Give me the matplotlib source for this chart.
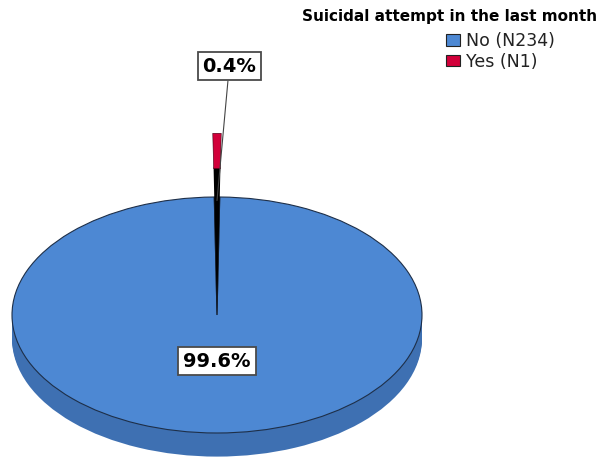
import matplotlib.pyplot as plt
import numpy as np
from matplotlib.patches import Patch

# data
labels = ["No (N234)", "Yes (N1)"]
counts = [234, 1]
title = "Suicidal attempt in the last month"

top_colors = ["#4d88d3", "#d2003a"]
side_color = "#3e70b2"


def main():
    total = sum(counts)
    pct = [100 * c / total for c in counts]
    # put the small slice straight up
    start = 90 - 360 * (counts[0] + counts[1] / 2) / total

    fig = plt.figure(figsize=(6.01, 4.59), dpi=100)
    ax = fig.add_axes([0, 0, 1, 1])

    # side of the disc: stacked copies shifted down
    depth = 0.2
    for d in np.linspace(depth, 0.01, 15):
        ax.pie(counts, startangle=start, center=(0, -d), colors=[side_color, side_color],
               wedgeprops=dict(linewidth=0))

    # top face, gap of the small slice shows dark
    top, _ = ax.pie(counts, startangle=start, colors=[top_colors[0], "black"],
                    wedgeprops=dict(linewidth=0.8, edgecolor="#1e2f48"))

    # black spike and exploded red tip of the small slice
    spike, _ = ax.pie(counts, startangle=start, radius=1.25, colors=["none", "black"],
                      wedgeprops=dict(linewidth=0))
    spike[0].set_visible(False)
    tip, _ = ax.pie(counts, startangle=start, radius=1.54, colors=["none", top_colors[1]],
                    wedgeprops=dict(width=0.3, linewidth=0.4, edgecolor="#3a0010"))
    tip[0].set_visible(False)

    box = dict(boxstyle="square,pad=0.25", facecolor="white", edgecolor="#4a4a4a", linewidth=1.3)

    # big slice label inside
    w = top[0]
    mid = np.deg2rad((w.theta1 + w.theta2) / 2)
    ax.text(0.39 * np.cos(mid), 0.39 * np.sin(mid), f"{pct[0]:.1f}%", ha="center", va="center",
            fontsize=14, fontweight="bold", bbox=box)

    # small slice label with a leader line
    w = top[1]
    mid = np.deg2rad((w.theta1 + w.theta2) / 2)
    ax.annotate(f"{pct[1]:.1f}%", xy=(0.97 * np.cos(mid), 0.97 * np.sin(mid)),
                xytext=(0.06, 2.11), ha="center", va="center",
                fontsize=14, fontweight="bold", bbox=box,
                arrowprops=dict(arrowstyle="-", color="#444444", linewidth=0.8,
                                shrinkA=0, shrinkB=0))

    ax.set_aspect("auto")
    ax.set_xlim(-217 / 205, (601 - 217) / 205)
    ax.set_ylim(-144 / 118, 315 / 118)
    ax.axis("off")

    fig.text(597 / 601, 1 - 16 / 459, title, ha="right", va="center",
             fontsize=11, fontweight="bold")
    handles = [Patch(facecolor=c, edgecolor="#222222", linewidth=0.8) for c in top_colors]
    fig.legend(handles, labels, loc="upper left", bbox_to_anchor=(446 / 601, 1 - 32 / 459),
               frameon=False, fontsize=12.5, handlelength=0.8, handleheight=0.65,
               handletextpad=0.35, labelspacing=0.15, borderpad=0, borderaxespad=0,
               labelcolor="#222222")

    fig.savefig("out.png", dpi=100)


if __name__ == "__main__":
    main()
